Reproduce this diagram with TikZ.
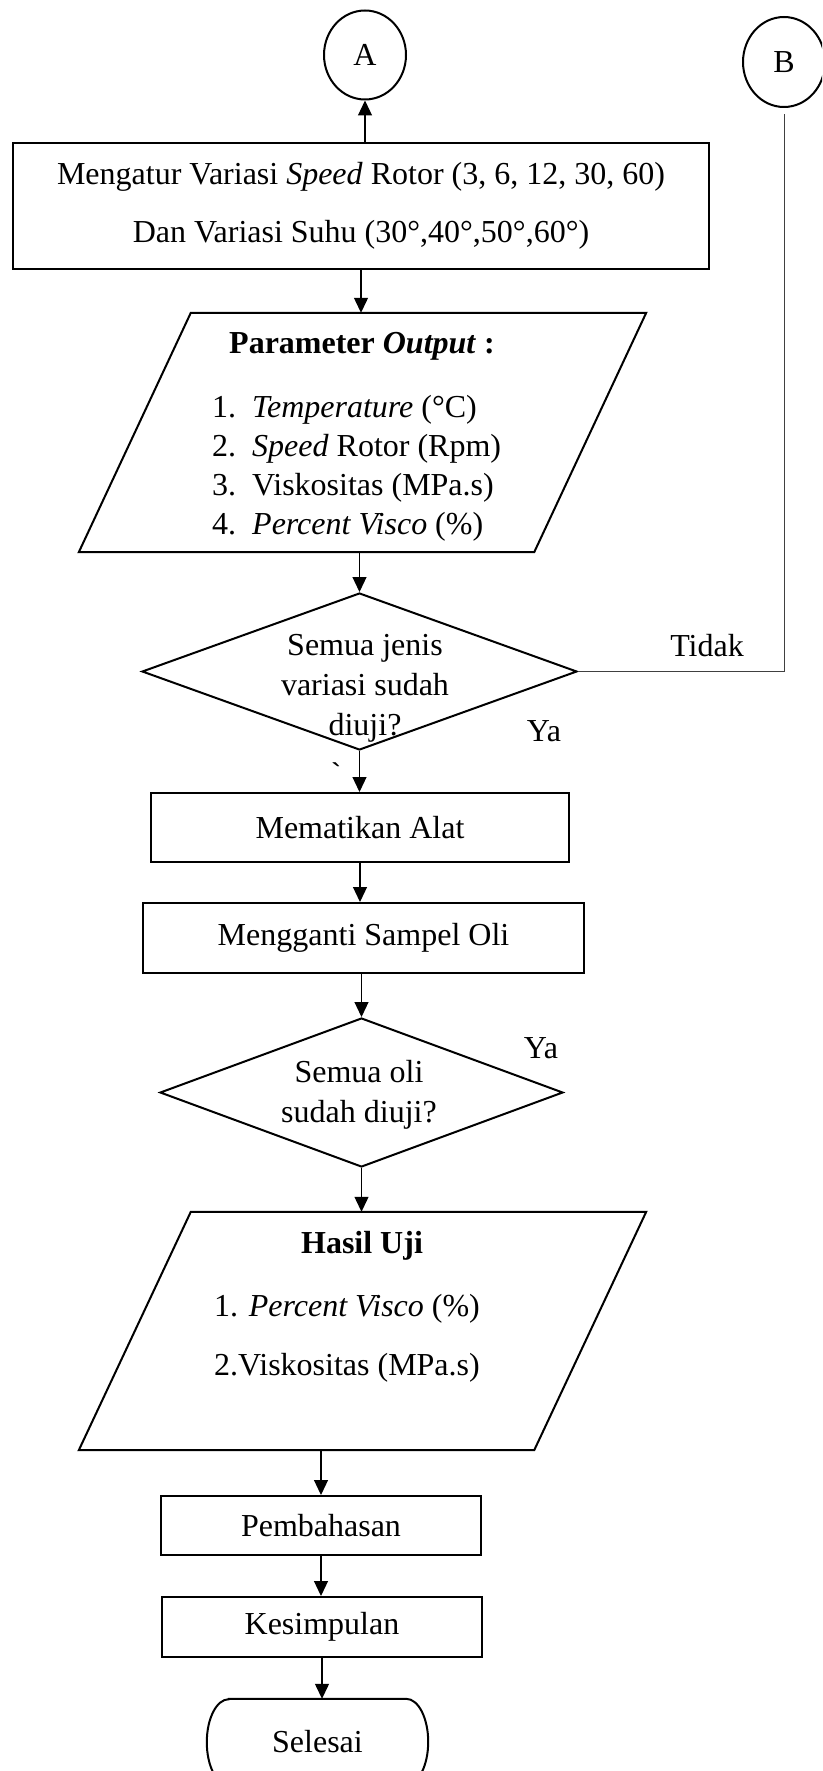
\documentclass[tikz,border=0pt]{standalone}
\usepackage{fontspec}
\setmainfont{Liberation Serif}
\setmonofont{Liberation Mono}
\usetikzlibrary{shapes.geometric, arrows.meta}

\begin{document}
\begin{tikzpicture}[x=1pt, y=-1pt,
  font=\fontsize{32}{40}\selectfont,
  outline/.style={draw=black, line width=2pt},
  proc/.style={outline, rectangle, inner sep=0pt},
  conn/.style={outline, ellipse, inner sep=0pt},
  decide/.style={outline, diamond, inner sep=0pt},
  txt/.style={inner sep=0pt},
  flow/.style={draw=black, line width=1.2pt, -{Triangle[length=15pt,width=14pt]}},
  thinline/.style={draw=black!75, line width=1pt}]

\path[use as bounding box, clip] (0,0) rectangle (822,1771);

% connectors
\node[conn, minimum width=82pt, minimum height=89pt] (A) at (365,55) {A};
\node[conn, minimum width=82pt, minimum height=90pt] (B) at (784,62) {B};

% settings box
\node[proc, minimum width=696pt, minimum height=126pt, align=center,
      font=\fontsize{32}{58}\selectfont] (set) at (361,206)
  {Mengatur Variasi \textit{Speed} Rotor (3, 6, 12, 30, 60)\\Dan Variasi Suhu (30°,40°,50°,60°)};

% output parameters (parallelogram)
\node[inner sep=0pt, minimum width=567pt, minimum height=239pt] (out) at (362.5,432.5) {};
\draw[outline] ([xshift=112pt]out.north west) -- (out.north east)
  -- ([xshift=-112pt]out.south east) -- (out.south west) -- cycle;
\node[txt, font=\fontsize{32}{40}\selectfont\bfseries] (outT) at (362,346) {Parameter \textit{Output} :};
\node[txt, anchor=west, font=\fontsize{32}{39}\selectfont] (outL) at (212,468)
  {\begin{tabular}{@{}p{40pt}@{}l@{}}
   1. & \textit{Temperature} (°C)\\
   2. & \textit{Speed} Rotor (Rpm)\\
   3. & Viskositas (MPa.s)\\
   4. & \textit{Percent Visco} (\%)
   \end{tabular}};

% first decision
\node[decide, minimum width=435pt, minimum height=157pt] (q1) at (359.5,671.5) {};
\node[txt, align=center] (q1t) at (365,688) {Semua jenis\\variasi sudah\\diuji?};
\node[txt] (no) at (707,646) {Tidak};
\node[txt] (yes1) at (544,731) {Ya};
\node[txt, font=\fontsize{32}{40}\selectfont\ttfamily] (tick) at (336,774) {`};

% process steps
\node[proc, minimum width=418pt, minimum height=69pt] (off) at (360,827.5) {Mematikan Alat};
\node[proc, minimum width=441pt, minimum height=70pt] (swap) at (363.5,938) {Mengganti Sampel Oli};

% second decision
\node[decide, minimum width=403pt, minimum height=149pt] (q2) at (361.5,1092.5) {};
\node[txt, align=center] (q2t) at (359,1095) {Semua oli\\sudah diuji?};
\node[txt] (yes2) at (541,1048) {Ya};

% results (parallelogram)
\node[inner sep=0pt, minimum width=567pt, minimum height=238pt] (res) at (362.5,1331) {};
\draw[outline] ([xshift=112pt]res.north west) -- (res.north east)
  -- ([xshift=-112pt]res.south east) -- (res.south west) -- cycle;
\node[txt, font=\fontsize{32}{40}\selectfont\bfseries] (resT) at (362,1246) {Hasil Uji};
\node[txt, anchor=west] (res1) at (214,1309) {1. \textit{Percent Visco} (\%)};
\node[txt, anchor=west] (res2) at (214,1368) {2.Viskositas (MPa.s)};

% final steps
\node[proc, minimum width=320pt, minimum height=59pt] (disc) at (321,1525.5) {Pembahasan};
\node[proc, minimum width=320pt, minimum height=60pt] (concl) at (322,1627) {Kesimpulan};
\node[txt, minimum width=221pt, minimum height=86pt] (stop) at (317.5,1742) {Selesai};
\draw[outline] ([xshift=22pt]stop.north west) -- ([xshift=-22pt]stop.north east)
  arc[start angle=-90, end angle=90, x radius=22, y radius=43]
  -- ([xshift=22pt]stop.south west)
  arc[start angle=90, end angle=270, x radius=22, y radius=43] -- cycle;

% flow lines
\draw[flow] (set.north -| A.south) -- (A.south);
\draw[flow] (set.south) -- (set.south |- out.north);
\draw[flow] (out.south -| q1.north) -- (q1.north);
\draw[flow] (q1.south) -- (q1.south |- off.north);
\draw[flow] (off.south) -- (off.south |- swap.north);
\draw[flow] (swap.south -| q2.north) -- (q2.north);
\draw[flow] (q2.south) -- (q2.south |- res.north);
\draw[flow] (res.south -| disc.north) -- (disc.north);
\draw[flow] (disc.south) -- (disc.south |- concl.north);
\draw[flow] (concl.south) -- (concl.south |- stop.north);

% "Tidak" branch back to connector B
\draw[thinline] (q1.east) -- (q1.east -| B.south) -- ([yshift=-6pt]B.south);

\end{tikzpicture}
\end{document}
